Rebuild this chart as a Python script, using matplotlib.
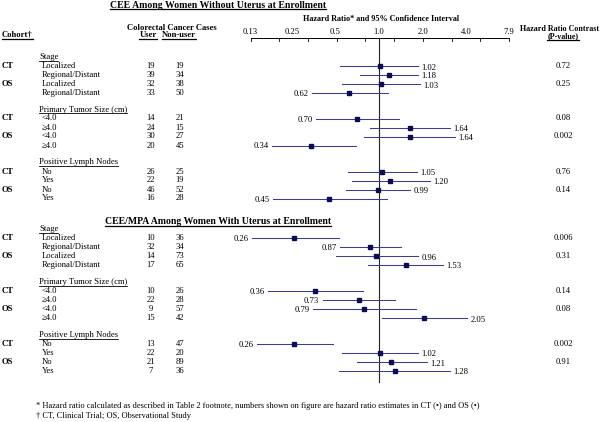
import numpy as np
import matplotlib
matplotlib.use("Agg")
import matplotlib.pyplot as plt

# ---------------- data ----------------
section_titles = ["CEE Among Women Without Uterus at Enrollment",
                  "CEE/MPA Among Women With Uterus at Enrollment"]
group_names = ["Stage", "Primary Tumor Size (cm)", "Positive Lymph Nodes"]
stage_rows = ["Localized", "Regional/Distant", "Localized", "Regional/Distant"]
size_rows = ["<4.0", "≥4.0", "<4.0", "≥4.0"]
node_rows = ["No", "Yes", "No", "Yes"]
cohort_rows = ["CT", "", "OS", ""]

users_cee = [19, 39, 32, 33, 14, 24, 30, 20, 26, 22, 46, 16]
nonusers_cee = [19, 34, 38, 50, 21, 15, 27, 45, 25, 19, 52, 28]
hr_cee = [1.02, 1.18, 1.03, 0.62, 0.70, 1.64, 1.64, 0.34, 1.05, 1.20, 0.99, 0.45]
lo_cee = [0.54, 0.74, 0.56, 0.345, 0.37, 0.87, 0.79, 0.183, 0.61, 0.65, 0.59, 0.186]
hi_cee = [1.86, 1.86, 1.92, 1.15, 1.37, 3.09, 3.34, 0.69, 1.83, 2.25, 1.64, 1.13]
p_cee = ["0.72", "", "0.25", "", "0.08", "", "0.002", "", "0.76", "", "0.14", ""]

users_mpa = [10, 32, 14, 17, 10, 22, 9, 15, 13, 22, 21, 7]
nonusers_mpa = [36, 34, 73, 65, 26, 28, 57, 42, 47, 20, 89, 36]
hr_mpa = [0.26, 0.87, 0.96, 1.53, 0.36, 0.73, 0.79, 2.05, 0.26, 1.02, 1.21, 1.28]
lo_mpa = [0.133, 0.54, 0.505, 0.84, 0.172, 0.41, 0.35, 1.05, 0.144, 0.556, 0.705, 0.53]
hi_mpa = [0.53, 1.42, 1.86, 2.76, 0.776, 1.29, 1.80, 4.04, 0.48, 1.86, 2.14, 3.09]
p_mpa = ["0.006", "", "0.31", "", "0.14", "", "0.08", "", "0.002", "", "0.91", ""]

tick_values = [0.13, 0.25, 0.5, 1.0, 2.0, 4.0, 7.9]
tick_labels = ["0.13", "0.25", "0.5", "1.0", "2.0", "4.0", "7.9"]

footnotes = ["* Hazard ratio calculated as described in Table 2 footnote, numbers shown on figure are hazard ratio estimates in CT (\u2022) and OS (\u2022)",
             "\u2020 CT, Clinical Trial; OS, Observational Study"]

# ---------------- layout ----------------
W, H = 601, 422
fig = plt.figure(figsize=(W / 100, H / 100), dpi=100)
fig.patch.set_facecolor("white")
FAM = ["Liberation Serif", "DejaVu Serif"]
FS = 6.2
LINEC = "#3b3b98"
MARKC = "#0c0c55"

bg = fig.add_axes([0, 0, 1, 1])
bg.set_xlim(0, W)
bg.set_ylim(H, 0)
bg.axis("off")

xL, xR = 250.5, 509.2
fa = fig.add_axes([xL / W, 0, (xR - xL) / W, 1])
fa.set_xscale("log")
fa.set_xlim(0.13, 7.9)
fa.set_ylim(H, 0)
fa.axis("off")
fa.patch.set_alpha(0)

underline = []


def txt(ax, x, y, s, ha="left", bold=False, ul=False, size=FS):
    t = ax.text(x, y, s, ha=ha, va="center", fontsize=size, family=FAM,
                fontweight="bold" if bold else "normal", color="black", clip_on=False)
    if ul:
        underline.append(t)
    return t


# headers
txt(bg, 218, 5, section_titles[0], ha="center", bold=True, ul=True, size=7.0)
txt(bg, 2, 35, "Cohort\u2020", bold=True, ul=True)
txt(bg, 172, 28, "Colorectal Cancer Cases", ha="center", bold=True)
txt(bg, 148, 35, "User", ha="center", bold=True, ul=True)
txt(bg, 179, 35, "Non-user", ha="center", bold=True, ul=True)
txt(bg, 381, 19, "Hazard Ratio* and 95% Confidence Interval", ha="center", bold=True, size=5.9)
txt(bg, 560, 29, "Hazard Ratio Contrast", ha="center", bold=True, size=5.8)
txt(bg, 563, 36, "(P-value)", ha="center", bold=True, ul=True, size=5.8)

# axis
axis_y = 38
fa.plot([0.13, 7.9], [axis_y, axis_y], color="black", lw=0.7, clip_on=False)
for tv in np.geomspace(0.13, 7.9, 10):
    fa.plot([tv, tv], [axis_y, axis_y + 3], color="black", lw=0.6, clip_on=False)
for tv, tl in zip(tick_values, tick_labels):
    txt(fa, tv, 31.5, tl, ha="center")
fa.plot([1.0, 1.0], [axis_y, 382], color="#222222", lw=0.8, clip_on=False)

sections = [
    (users_cee, nonusers_cee, hr_cee, lo_cee, hi_cee, p_cee, [57, 109.5, 162.5]),
    (users_mpa, nonusers_mpa, hr_mpa, lo_mpa, hi_mpa, p_mpa, [229, 282, 335]),
]
row_sets = [stage_rows, size_rows, node_rows]

txt(bg, 218, 222, section_titles[1], ha="center", bold=True, ul=True, size=7.0)

for users, nonusers, hr, lo, hi, pv, heads in sections:
    for g, (gname, gy) in enumerate(zip(group_names, heads)):
        txt(bg, 39, gy, gname, ul=True)
        for i in range(4):
            k = g * 4 + i
            y = gy + 9 + 9 * i
            if cohort_rows[i]:
                txt(bg, 2, y, cohort_rows[i], bold=True)
            txt(bg, 42, y, row_sets[g][i])
            txt(bg, 151, y, str(users[k]), ha="center")
            txt(bg, 180, y, str(nonusers[k]), ha="center")
            if pv[k]:
                txt(bg, 563, y, pv[k], ha="center")
            fa.plot([lo[k], hi[k]], [y, y], color=LINEC, lw=0.75, clip_on=False)
            fa.plot([hr[k]], [y], marker="s", ms=2.2, color=MARKC, clip_on=False)
            # label beside the CI line (convert a pixel gap to data)
            if hr[k] < 0.95:
                xl = lo[k] * np.exp(-3.5 / 63.0)
                txt(fa, xl, y + 1, f"{hr[k]:.2f}", ha="right")
            else:
                xl = hi[k] * np.exp(3.5 / 63.0)
                txt(fa, xl, y + 1.5, f"{hr[k]:.2f}", ha="left")

txt(bg, 36, 406, footnotes[0], size=6.0)
txt(bg, 36, 416.5, footnotes[1], size=6.0)

fig.canvas.draw()
r = fig.canvas.get_renderer()
inv = bg.transData.inverted()
for t in underline:
    bb = t.get_window_extent(r)
    (x0, y0) = inv.transform((bb.x0, bb.y0))
    (x1, _) = inv.transform((bb.x1, bb.y0))
    bg.plot([x0, x1], [y0 - 0.3, y0 - 0.3], color="black",
            lw=0.9 if t.get_fontweight() == "bold" else 0.6, clip_on=False)

fig.savefig("out.png", dpi=100, facecolor="white")
